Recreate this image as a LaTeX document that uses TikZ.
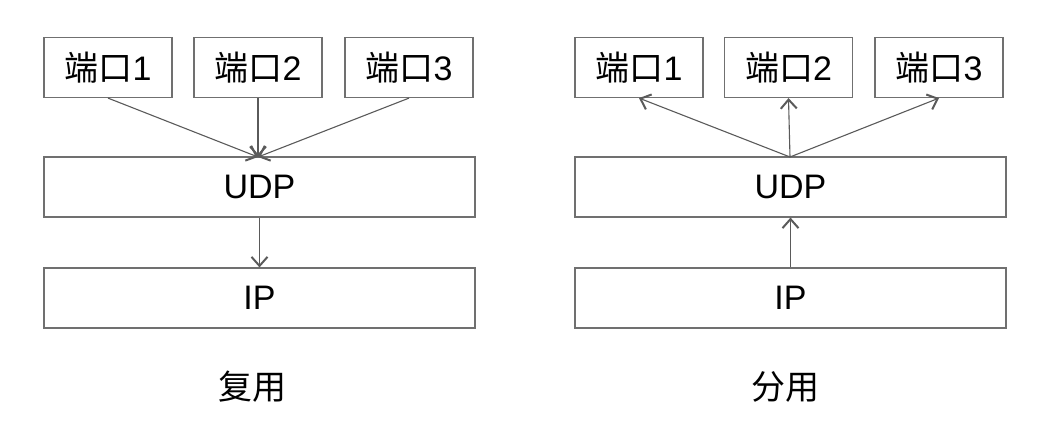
\documentclass[tikz,border=0pt]{standalone}
\usepackage{fontspec}
\setmainfont{Liberation Sans}
\newfontfamily\cjk{Noto Sans CJK SC}
\usetikzlibrary{arrows.meta}
\definecolor{bord}{HTML}{707070}
\definecolor{arr}{HTML}{5A5A5A}
\tikzset{
  box/.style={draw=bord, line width=1.2pt, minimum height=60pt, inner sep=0pt, font=\fontsize{34}{34}\selectfont, text=black},
  portbox/.style={box, minimum width=128pt},
  layer/.style={box, minimum width=431pt},
  conn/.style={draw=arr, line width=1.1pt, -{Straight Barb[length=9pt,width=16pt,line width=2pt]}},
  captext/.style={font=\fontsize{34}{34}\selectfont\cjk, text=black}
}
\begin{document}
\begin{tikzpicture}[x=1pt,y=-1pt]
\useasboundingbox (0,0) rectangle (1055,436);
% left: multiplexing
\node[portbox] (l1) at (108,67.5) {{\cjk 端口}1};
\node[portbox] (l2) at (258,67.5) {{\cjk 端口}2};
\node[portbox] (l3) at (409,67.5) {{\cjk 端口}3};
\node[layer] (ludp) at (259.5,187) {UDP};
\node[layer] (lip) at (259.5,298) {IP};
\coordinate (lm) at (258,157);
\draw[conn] (l1.south) -- (lm);
\draw[conn] (l2.south) -- (lm);
\draw[conn] (l3.south) -- (lm);
\draw[conn] (ludp.south) -- (lip.north);
\node[captext] (lcap) at (252,387) {复用};
% right: demultiplexing
\node[portbox] (r1) at (639,67.5) {{\cjk 端口}1};
\node[portbox] (r2) at (788.5,67.5) {{\cjk 端口}2};
\node[portbox] (r3) at (939,67.5) {{\cjk 端口}3};
\node[layer] (rudp) at (790.5,187) {UDP};
\node[layer] (rip) at (790.5,298) {IP};
\coordinate (rm) at (790,157);
\draw[conn] (rm) -- (r1.south);
\draw[conn] (rm) -- (r2.south);
\draw[conn] (rm) -- (r3.south);
\draw[conn] (rip.north) -- (rudp.south);
\node[captext] (rcap) at (785,387) {分用};
\end{tikzpicture}
\end{document}
